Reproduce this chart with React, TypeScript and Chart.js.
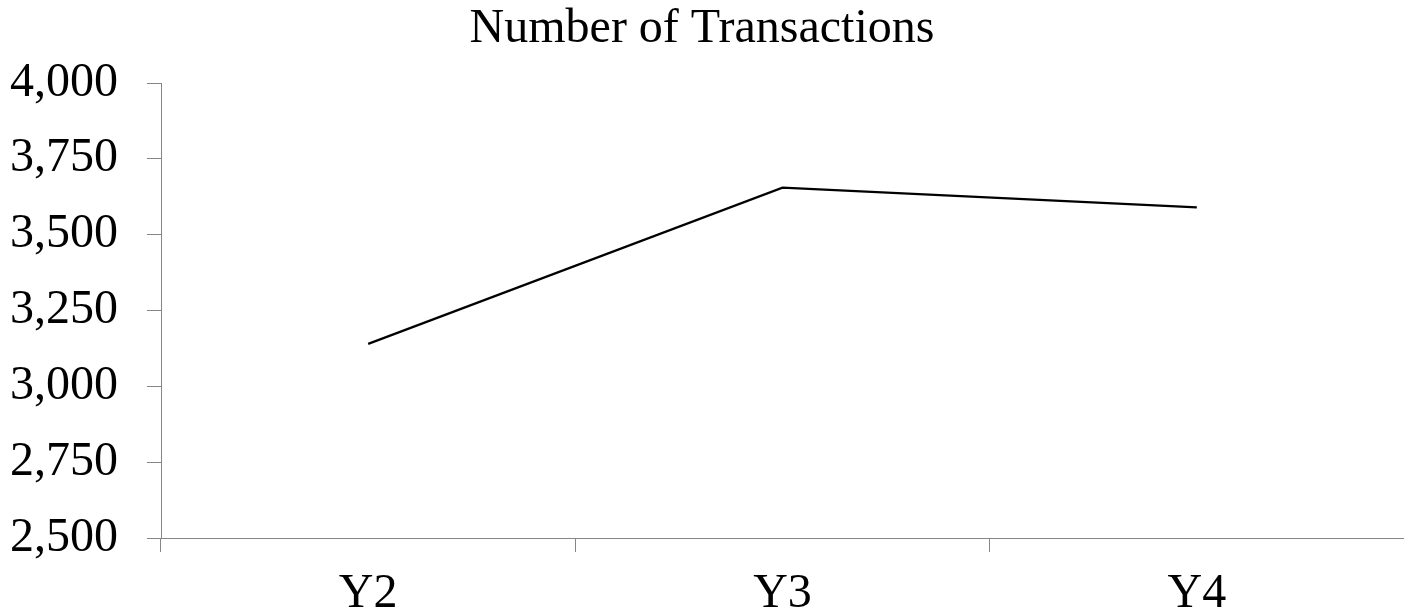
import React, { useEffect, useRef } from "react";
import { Chart, registerables } from "chart.js";

Chart.register(...registerables);

const categories = ["Y2", "Y3", "Y4"];
const transactions = [3140, 3655, 3590];
const yTicks = [2500, 2750, 3000, 3250, 3500, 3750, 4000];
const titleText = "Number of Transactions";

const FONT = '"Liberation Serif", "Times New Roman", Times, serif';
const AXIS_GRAY = "#868686";

export default function App() {
  const canvasRef = useRef<HTMLCanvasElement | null>(null);

  useEffect(() => {
    document.body.style.margin = "0";
    const canvas = canvasRef.current;
    if (!canvas) return;
    const chart = new Chart(canvas, {
      type: "line",
      data: {
        labels: categories,
        datasets: [
          {
            label: titleText,
            data: transactions,
            borderColor: "#000000",
            borderWidth: 2.2,
            pointRadius: 0,
            fill: false,
            tension: 0,
          },
        ],
      },
      options: {
        responsive: false,
        animation: false,
        layout: { padding: { left: 0, right: 0, top: 0, bottom: 0 } },
        plugins: {
          legend: { display: false },
          tooltip: { enabled: false },
          title: {
            display: true,
            text: titleText,
            color: "#000000",
            font: { family: FONT, size: 48, weight: "normal", lineHeight: 1 },
            padding: { top: 5, bottom: 30 },
          },
        },
        scales: {
          x: {
            type: "category",
            offset: true,
            afterFit: (scale: any) => {
              scale.height = 75;
            },
            grid: {
              offset: true,
              drawOnChartArea: false,
              drawTicks: true,
              tickLength: 14,
              color: AXIS_GRAY,
              lineWidth: 1,
            },
            border: { display: true, color: AXIS_GRAY, width: 1 },
            ticks: {
              color: "#000000",
              padding: 18,
              font: { family: FONT, size: 48, lineHeight: 1 },
              maxRotation: 0,
            },
          },
          y: {
            min: yTicks[0],
            max: yTicks[yTicks.length - 1],
            afterFit: (scale: any) => {
              scale.width = 161;
            },
            afterBuildTicks: (scale: any) => {
              scale.ticks = yTicks.map((v) => ({ value: v }));
            },
            grid: {
              drawOnChartArea: false,
              drawTicks: true,
              tickLength: 14,
              color: AXIS_GRAY,
              lineWidth: 1,
            },
            border: { display: true, color: AXIS_GRAY, width: 1 },
            ticks: {
              color: "#000000",
              padding: 29,
              font: { family: FONT, size: 48, lineHeight: 1 },
              callback: (v: any) => Number(v).toLocaleString("en-US"),
            },
          },
        },
      },
    });
    return () => chart.destroy();
  }, []);

  return (
    <canvas
      ref={canvasRef}
      width={1404}
      height={613}
      style={{ display: "block", width: "1404px", height: "613px" }}
    />
  );
}
